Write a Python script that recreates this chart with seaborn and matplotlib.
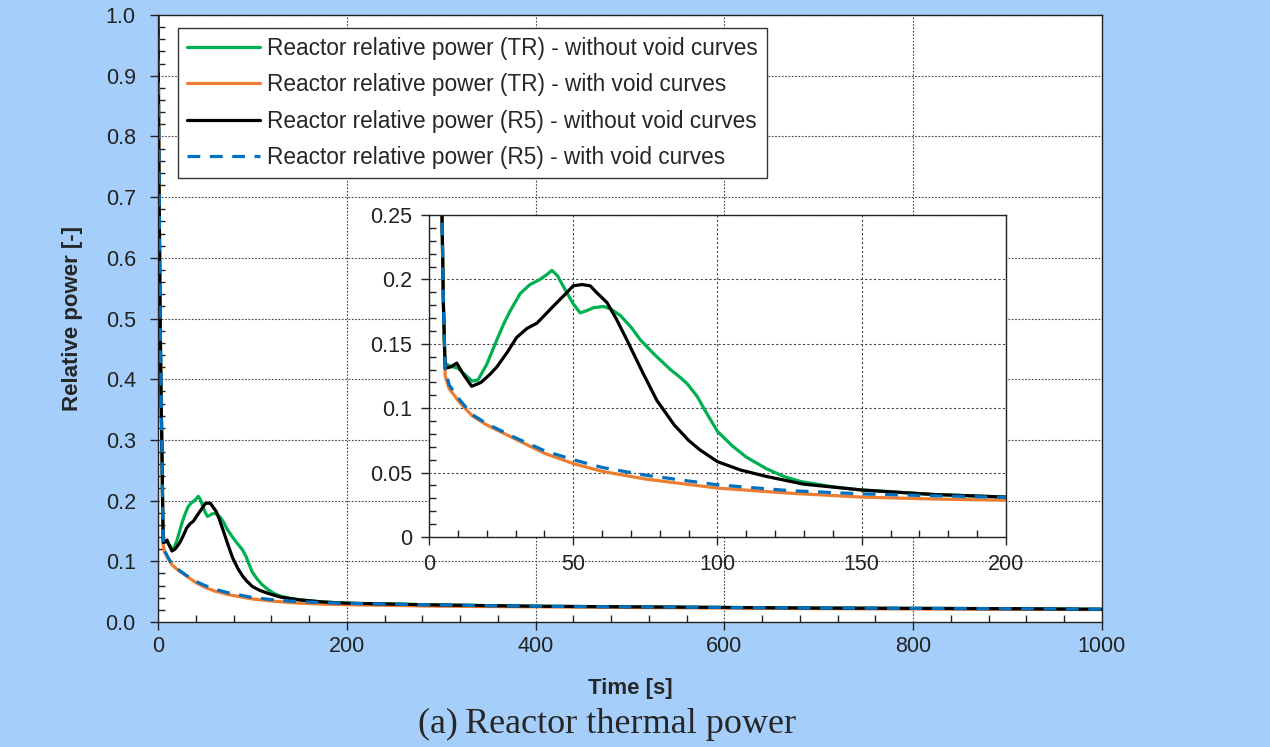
import numpy as np
import pandas as pd
import matplotlib
matplotlib.use('Agg')
import matplotlib.pyplot as plt
import seaborn as sns
from matplotlib.ticker import MultipleLocator, FuncFormatter

# 1. 数据
t_tr_nv = [0, 1, 2, 3, 4, 4.5, 5, 5.5, 7, 10, 13, 15, 17, 20, 23.5, 26, 28, 31.6, 35,
           38.5, 41, 42.6, 44.5, 46.7, 50, 52.4, 55, 57, 60.5, 63, 66.3, 70, 73.3, 78,
           83.7, 87, 89.5, 93, 96, 100, 105, 110, 117, 123, 129, 140, 150, 175, 200,
           300, 400, 500, 600, 700, 800, 900, 1000]
p_tr_nv = [1.0, 0.75, 0.55, 0.40, 0.30, 0.25, 0.18, 0.135, 0.133, 0.131, 0.125, 0.121,
           0.122, 0.134, 0.153, 0.166, 0.175, 0.189, 0.196, 0.200, 0.204, 0.207, 0.203,
           0.194, 0.181, 0.174, 0.176, 0.178, 0.179, 0.177, 0.172, 0.163, 0.153, 0.142,
           0.130, 0.124, 0.119, 0.109, 0.097, 0.082, 0.071, 0.062, 0.053, 0.047, 0.043,
           0.039, 0.0365, 0.033, 0.031, 0.028, 0.026, 0.025, 0.024, 0.023, 0.0225,
           0.022, 0.021]

t_tr_v = [0, 1, 2, 3, 4, 4.5, 5, 5.6, 7, 10.8, 15, 20, 30, 40, 50, 60, 75, 100, 125,
          150, 175, 200, 300, 400, 500, 600, 700, 800, 900, 1000]
p_tr_v = [1.0, 0.75, 0.55, 0.40, 0.30, 0.25, 0.18, 0.125, 0.115, 0.104, 0.094, 0.087,
          0.076, 0.065, 0.057, 0.051, 0.045, 0.038, 0.034, 0.031, 0.0295, 0.0285, 0.026,
          0.025, 0.024, 0.023, 0.022, 0.0215, 0.021, 0.0205]

t_r5_nv = [0, 1, 2, 3, 4, 4.5, 5, 5.6, 7.5, 9.6, 12, 14.8, 18, 21, 23.5, 27, 30.4, 34,
           37.4, 40, 43, 47, 50, 53, 55.9, 58, 61.7, 65, 68.6, 74, 79, 85, 90, 94, 100,
           108, 117, 130, 150, 175, 200, 300, 400, 500, 600, 700, 800, 900, 1000]
p_r5_nv = [1.0, 0.75, 0.55, 0.40, 0.30, 0.25, 0.18, 0.131, 0.132, 0.135, 0.126, 0.117,
           0.120, 0.126, 0.132, 0.143, 0.155, 0.162, 0.166, 0.172, 0.179, 0.188, 0.195,
           0.196, 0.195, 0.190, 0.182, 0.169, 0.153, 0.128, 0.106, 0.087, 0.075, 0.0675,
           0.0585, 0.052, 0.047, 0.041, 0.0365, 0.033, 0.031, 0.028, 0.026, 0.025,
           0.024, 0.023, 0.0225, 0.022, 0.021]

t_r5_v = [0, 1, 2, 3, 4, 4.5, 5, 5.6, 7, 10.8, 15, 20, 30, 40, 50, 60, 75, 100, 125,
          150, 175, 200, 300, 400, 500, 600, 700, 800, 900, 1000]
p_r5_v = [1.0, 0.75, 0.55, 0.40, 0.30, 0.25, 0.18, 0.13, 0.118, 0.106, 0.095, 0.088,
          0.077, 0.067, 0.060, 0.054, 0.048, 0.0405, 0.036, 0.0335, 0.032, 0.0308, 0.028,
          0.026, 0.025, 0.024, 0.023, 0.0225, 0.022, 0.021]

labels = ['Reactor relative power (TR) - without void curves',
          'Reactor relative power (TR) - with void curves',
          'Reactor relative power (R5) - without void curves',
          'Reactor relative power (R5) - with void curves']
colors = ['#00B050', '#ED7D31', '#000000', '#0070C0']
series = [(t_tr_nv, p_tr_nv), (t_tr_v, p_tr_v), (t_r5_nv, p_r5_nv), (t_r5_v, p_r5_v)]
styles = ['-', '-', '-', (0, (4, 3))]

# 2. 样式
sns.set_style('ticks')
bg = '#A5CFFA'
plt.rcParams['font.family'] = ['Liberation Sans', 'DejaVu Sans']
plt.rcParams['axes.edgecolor'] = '#222222'

fig = plt.figure(figsize=(12.7, 7.47), dpi=100)
fig.patch.set_facecolor(bg)


def style_axes(ax, xmaj, xmin, ymaj, ymin, gls, xpad, ypad):
    ax.xaxis.set_major_locator(MultipleLocator(xmaj))
    ax.xaxis.set_minor_locator(MultipleLocator(xmin))
    ax.yaxis.set_major_locator(MultipleLocator(ymaj))
    ax.yaxis.set_minor_locator(MultipleLocator(ymin))
    ax.tick_params(which='major', direction='out', length=6, width=1, labelsize=15.5,
                   colors='#222222')
    ax.tick_params(axis='x', which='major', pad=xpad)
    ax.tick_params(axis='y', which='major', pad=ypad)
    ax.tick_params(which='minor', direction='in', length=5, width=1, colors='#222222')
    ax.grid(True, which='major', color='#444444', linestyle=gls, linewidth=0.8)
    ax.set_axisbelow(True)
    for s in ax.spines.values():
        s.set_visible(True)
        s.set_linewidth(1)


# 3. 主图
ax = fig.add_axes([0.1244, 0.1673, 0.7433, 0.8126])
ax.set_facecolor('white')
for (t, p), lab, c, ls in zip(series, labels, colors, styles):
    sns.lineplot(x=t, y=p, ax=ax, color=c, linewidth=2.3, linestyle=ls, label=lab,
                 estimator=None, sort=False)
ax.set_xlim(0, 1000)
ax.set_ylim(0, 1.0)
style_axes(ax, 200, 40, 0.1, 0.02, (0, (1.5, 1.5)), 4, 10)
ax.xaxis.set_major_formatter(FuncFormatter(lambda v, _: f'{v:.0f}'))
ax.yaxis.set_major_formatter(FuncFormatter(lambda v, _: f'{v:.1f}'))
ax.set_xlabel('Time [s]', fontsize=16, fontweight='bold', labelpad=15)
ax.set_ylabel('Relative power [-]', fontsize=16, fontweight='bold', labelpad=16)
leg = ax.legend(loc='upper left', bbox_to_anchor=(0.021, 0.979), fontsize=16.3,
                frameon=True, fancybox=False, framealpha=1, edgecolor='#333333',
                handlelength=3.2, labelspacing=0.58, borderpad=0.42, handletextpad=0.3,
                borderaxespad=0)
leg.get_frame().set_linewidth(1)

# 4. 局部放大图
ins = fig.add_axes([0.3378, 0.2811, 0.4543, 0.4311])
ins.set_facecolor('white')
for (t, p), c, ls in zip(series, colors, styles):
    sns.lineplot(x=t, y=p, ax=ins, color=c, linewidth=2.3, linestyle=ls,
                 estimator=None, sort=False, legend=False)
ins.set_xlim(0, 200)
ins.set_ylim(0, 0.25)
style_axes(ins, 50, 10, 0.05, 0.01, (0, (2, 2)), 6, 6)
ins.yaxis.set_major_formatter(FuncFormatter(lambda v, _: f'{v:g}'))
ins.set_xlabel('')
ins.set_ylabel('')

# 5. 图注
fig.text(0.478, 0.03, '(a)\u2009Reactor thermal power', ha='center', va='center',
         fontsize=26, family=['Liberation Serif', 'DejaVu Serif'])

plt.savefig('out.png', dpi=100, facecolor=bg)
